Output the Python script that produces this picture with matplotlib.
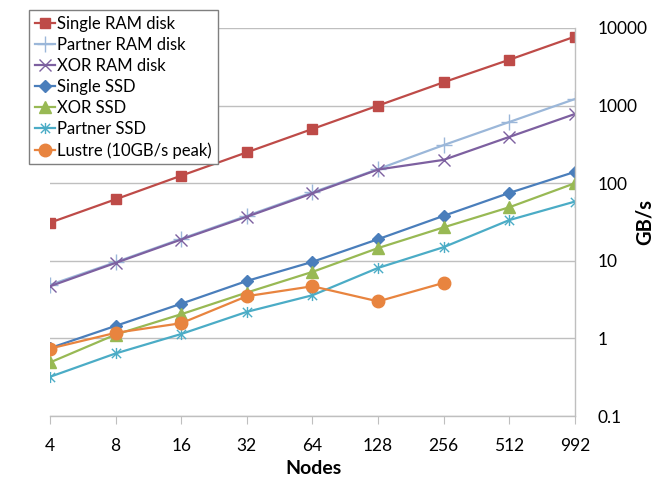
import matplotlib
matplotlib.use("Agg")
import matplotlib.pyplot as plt
from matplotlib.path import Path

plt.rcParams["font.family"] = ["Lato", "DejaVu Sans"]

NODES = ["4", "8", "16", "32", "64", "128", "256", "512", "992"]

single_ram = [31, 62, 125, 250, 500, 1000, 2000, 3900, 7750]
partner_ram = [4.9, 9.6, 19.2, 38, 76, 152, 310, 615, 1215]
xor_ram = [4.7, 9.4, 18.8, 37, 74, 150, 200, 395, 780]
single_ssd = [0.75, 1.45, 2.8, 5.5, 9.7, 19, 38, 75, 140]
xor_ssd = [0.49, 1.12, 2.05, 3.9, 7.2, 14.6, 27, 49, 100]
partner_ssd = [0.32, 0.64, 1.14, 2.2, 3.6, 8.1, 15, 33.5, 58]
lustre = [0.74, 1.18, 1.57, 3.5, 4.7, 3.0, 5.2]

# Excel-style star: an x with a vertical bar through it
STAR = Path(
    [(-1, -1), (1, 1), (-1, 1), (1, -1), (0, -1.2), (0, 1.2)],
    [Path.MOVETO, Path.LINETO, Path.MOVETO, Path.LINETO, Path.MOVETO, Path.LINETO],
)

SERIES = [
    ("Single RAM disk", single_ram, "#BE4B48", "s", 7.5),
    ("Partner RAM disk", partner_ram, "#9BB7D9", "+", 11),
    ("XOR RAM disk", xor_ram, "#7D60A0", "x", 9),
    ("Single SSD", single_ssd, "#4A7EBB", "D", 6.5),
    ("XOR SSD", xor_ssd, "#98B954", "^", 8.5),
    ("Partner SSD", partner_ssd, "#4BACC6", STAR, 8),
    ("Lustre (10GB/s peak)", lustre, "#E8843F", "o", 9),
]

fig = plt.figure(figsize=(6.56, 4.8), dpi=100)
ax = fig.add_axes([0.0762, 0.1333, 0.8003, 0.8084])

for label, values, color, marker, ms in SERIES:
    ax.plot(range(len(values)), values, color=color, lw=1.6, marker=marker,
            ms=ms, mew=1.0, label=label)

ax.set_yscale("log")
ax.set_ylim(0.1, 10000)
ax.set_xlim(0, len(NODES) - 1)
ax.set_xticks(range(len(NODES)))
ax.set_xticklabels(NODES)
ax.set_yticks([0.1, 1, 10, 100, 1000, 10000])
ax.set_yticklabels(["0.1", "1", "10", "100", "1000", "10000"])
ax.minorticks_off()
ax.yaxis.tick_right()
ax.grid(axis="y", color="#BFBFBF", lw=1.0)
ax.set_axisbelow(True)

for side in ("left", "top"):
    ax.spines[side].set_visible(False)
for side in ("right", "bottom"):
    ax.spines[side].set_color("#BFBFBF")
    ax.spines[side].set_linewidth(1.0)

ax.tick_params(axis="x", direction="out", length=6, color="#BFBFBF",
               labelsize=12.5, pad=10)
ax.tick_params(axis="y", length=0, labelsize=12.5, pad=16)

ax.set_xlabel("Nodes", fontsize=14, fontweight="bold")
ax.xaxis.set_label_coords(0.501, -0.114)
ax.text(1.133, 0.5, "GB/s", transform=ax.transAxes, rotation=90,
        ha="center", va="center", fontsize=14.5, fontweight="bold")

leg = ax.legend(loc="upper left", bbox_to_anchor=(-0.04, 1.046), borderaxespad=0,
                fontsize=12, handlelength=1.2, handletextpad=0.15,
                labelspacing=0.3, borderpad=0.35, frameon=True, fancybox=False,
                framealpha=1)
leg.get_frame().set_edgecolor("#7F7F7F")
leg.get_frame().set_linewidth(1.0)

fig.savefig("out.png", dpi=100)
